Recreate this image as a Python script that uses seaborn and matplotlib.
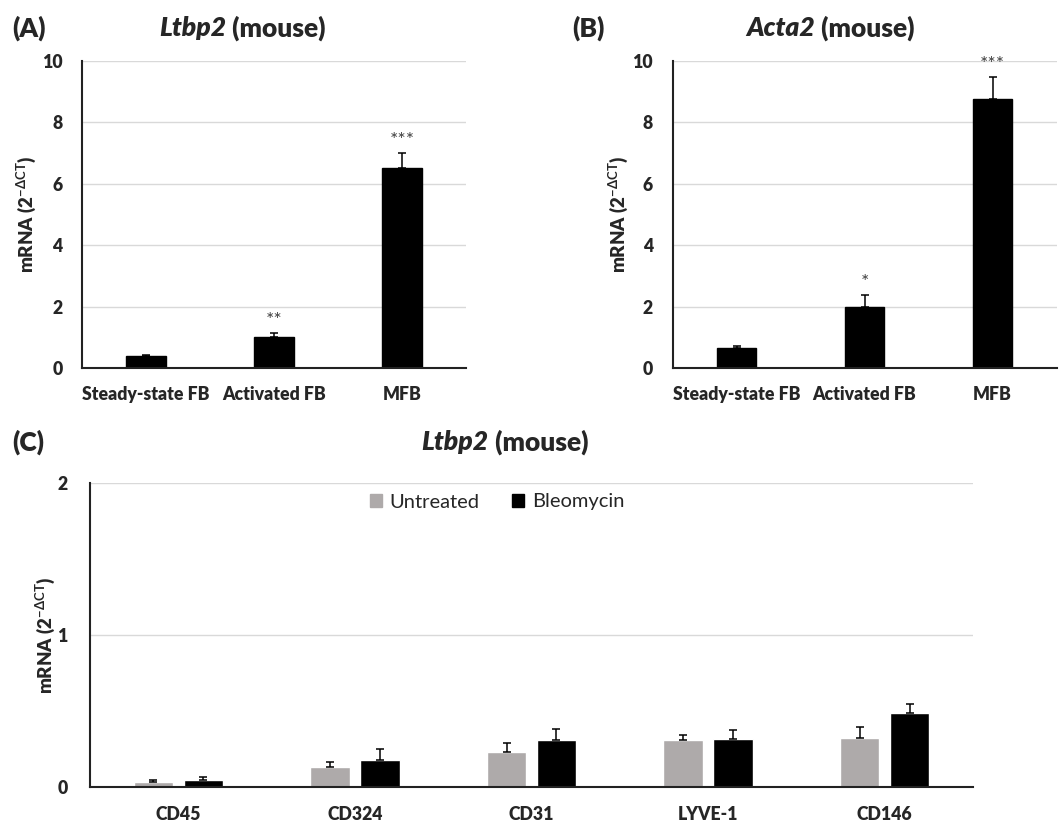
import numpy as np
import pandas as pd
import matplotlib
matplotlib.use("Agg")
import matplotlib.pyplot as plt
import matplotlib.patches as mpatches
import seaborn as sns

# ---------------- data ----------------
fb_categories = ["Steady-state FB", "Activated FB", "MFB"]
ltbp2_mean = [0.38, 1.00, 6.51]
ltbp2_err = [0.04, 0.14, 0.49]
ltbp2_stars = ["", "**", "***"]

acta2_mean = [0.64, 1.98, 8.76]
acta2_err = [0.09, 0.40, 0.72]
acta2_stars = ["", "*", "***"]

cell_categories = ["CD45", "CD324", "CD31", "LYVE-1", "CD146"]
groups = ["Untreated", "Bleomycin"]
untreated_mean = [0.031, 0.134, 0.232, 0.307, 0.325]
untreated_err = [0.015, 0.030, 0.057, 0.033, 0.068]
bleo_mean = [0.048, 0.180, 0.307, 0.318, 0.487]
bleo_err = [0.018, 0.068, 0.077, 0.059, 0.059]

ab_yticks = [0, 2, 4, 6, 8, 10]
c_yticks = [0, 1, 2]

GRAY = "#aeaaaa"
W, H = 1061, 825
FS = 12.7
BW = "heavy"

sns.set_theme(style="white")
plt.rcParams["font.family"] = ["Lato", "DejaVu Sans"]
plt.rcParams["mathtext.fontset"] = "custom"
plt.rcParams["mathtext.rm"] = "Lato:bold"
plt.rcParams["mathtext.it"] = "Lato:italic"
plt.rcParams["mathtext.bf"] = "Lato:bold"

fig = plt.figure(figsize=(W / 100, H / 100), dpi=100)


def px_axes(x0, y0, x1, y1):
    return fig.add_axes([x0 / W, 1 - y1 / H, (x1 - x0) / W, (y1 - y0) / H])


ylabel = r"mRNA (2$^{\mathrm{-\Delta CT}}$)"


def style_axes(ax, ticks, ypad, xpad):
    ax.set_ylim(ticks[0], ticks[-1])
    ax.set_yticks(ticks)
    ax.set_yticklabels([str(t) for t in ticks], fontsize=FS, fontweight=BW)
    ax.grid(axis="y", color="#d9d9d9", linewidth=1.0)
    ax.set_axisbelow(True)
    for s in ["top", "right"]:
        ax.spines[s].set_visible(False)
    ax.spines["left"].set_color("#222222")
    ax.spines["bottom"].set_color("#222222")
    ax.spines["left"].set_linewidth(1.5)
    ax.spines["bottom"].set_linewidth(1.5)
    ax.tick_params(axis="both", length=0)
    ax.tick_params(axis="y", pad=ypad)
    ax.tick_params(axis="x", pad=xpad)
    for lbl in ax.get_xticklabels():
        lbl.set_fontweight(BW)
        lbl.set_fontsize(FS)
    ax.set_xlabel("")
    ax.set_ylabel(ylabel, fontsize=13.5, fontweight=BW)


def single_panel(ax, means, errs, stars):
    df = pd.DataFrame({"cat": fb_categories, "val": means})
    sns.barplot(data=df, x="cat", y="val", color="black", edgecolor="black",
                width=0.31, errorbar=None, ax=ax, saturation=1)
    xs = [p.get_x() + p.get_width() / 2 for p in ax.patches]
    ax.errorbar(xs, means, yerr=[np.zeros(len(errs)), errs], fmt="none",
                ecolor="black", elinewidth=1.1, capsize=3, capthick=1.1)
    for x, m, e, s in zip(xs, means, errs, stars):
        if s:
            ax.text(x, m + e + 0.12, s, ha="center", va="bottom",
                    fontsize=14, color="#404040")
    ax.set_xlim(-0.5, 2.5)


def fig_text_title(xc, yc, ital, rest, size=19):
    r = fig.canvas.get_renderer()
    t1 = fig.text(0, 0, ital, fontsize=size, fontweight=BW, fontstyle="italic")
    t2 = fig.text(0, 0, " " + rest, fontsize=size, fontweight=BW)
    w1 = t1.get_window_extent(r).width
    w2 = t2.get_window_extent(r).width
    x0 = xc - (w1 + w2) / 2
    t1.set_position((x0 / W, 1 - yc / H))
    t1.set_va("center")
    t2.set_position(((x0 + w1) / W, 1 - yc / H))
    t2.set_va("center")


# Panel A
axA = px_axes(82, 61, 466, 368)
single_panel(axA, ltbp2_mean, ltbp2_err, ltbp2_stars)
style_axes(axA, ab_yticks, 14, 13)
axA.yaxis.set_label_coords(-0.115, 0.5)

# Panel B
axB = px_axes(672.5, 61, 1056.5, 368)
single_panel(axB, acta2_mean, acta2_err, acta2_stars)
style_axes(axB, ab_yticks, 14, 13)
axB.yaxis.set_label_coords(-0.11, 0.5)

# Panel C
axC = px_axes(90, 483, 973, 787)
dfc = pd.DataFrame({
    "cat": cell_categories * 2,
    "grp": [groups[0]] * len(cell_categories) + [groups[1]] * len(cell_categories),
    "val": untreated_mean + bleo_mean,
})
sns.barplot(data=dfc, x="cat", y="val", hue="grp", palette=[GRAY, "black"],
            width=0.566, gap=0.21, errorbar=None, ax=axC, saturation=1,
            edgecolor=None, legend=False)
for cont, errs, means in zip(axC.containers, [untreated_err, bleo_err],
                             [untreated_mean, bleo_mean]):
    xs = [p.get_x() + p.get_width() / 2 for p in cont.patches]
    axC.errorbar(xs, means, yerr=[np.zeros(len(errs)), errs], fmt="none",
                 ecolor="black", elinewidth=1.1, capsize=3, capthick=1.1)
axC.set_xlim(-0.5, 4.5)
style_axes(axC, c_yticks, 16, 14)
axC.yaxis.set_label_coords(-0.037, 0.5)
handles = [mpatches.Patch(color=GRAY, label=groups[0]),
           mpatches.Patch(color="black", label=groups[1])]
fig.legend(handles=handles, loc="center", bbox_to_anchor=(497 / W, 1 - 502 / H),
           ncol=2, frameon=False, fontsize=14.5, handlelength=0.6, handleheight=0.6,
           handletextpad=0.4, columnspacing=1.6)

# Titles and panel labels
fig.text(12 / W, 1 - 28 / H, "(A)", fontsize=19, fontweight=BW, va="center")
fig.text(572 / W, 1 - 28 / H, "(B)", fontsize=19, fontweight=BW, va="center")
fig.text(12 / W, 1 - 442 / H, "(C)", fontsize=19, fontweight=BW, va="center")
fig_text_title(242, 28, "Ltbp2", "(mouse)")
fig_text_title(830, 28, "Acta2", "(mouse)")
fig_text_title(505, 442, "Ltbp2", "(mouse)")

fig.savefig("out.png", dpi=100)
